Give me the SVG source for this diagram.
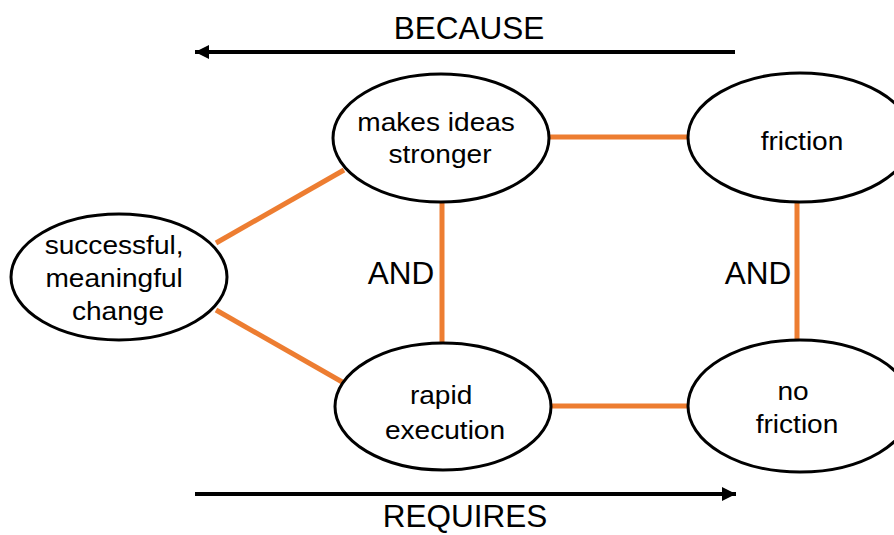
<svg xmlns="http://www.w3.org/2000/svg" width="894" height="535" viewBox="0 0 894 535">
  <style>
    .node ellipse { fill: #ffffff; stroke: #000000; stroke-width: 3; }
    .node text { font-family: "Liberation Sans", Arial, sans-serif; font-size: 26.5px; fill: #000000; text-anchor: middle; }
    .link { stroke: #ED7D31; stroke-width: 5; fill: none; }
    .flow { stroke: #000000; stroke-width: 4; fill: none; }
    .label { font-family: "Liberation Sans", Arial, sans-serif; font-size: 31.5px; fill: #000000; text-anchor: middle; }
  </style>
  <defs>
    <marker id="head" markerUnits="userSpaceOnUse" markerWidth="16" markerHeight="14" refX="14" refY="7" orient="auto">
      <path d="M0,0 L14,7 L0,14 Z" fill="#000000"/>
    </marker>
  </defs>

  <rect width="894" height="535" fill="#ffffff"/>

  <!-- direction arrows -->
  <g id="flow-arrows">
    <line class="flow" x1="735" y1="52" x2="195" y2="52" marker-end="url(#head)"/>
    <text class="label" x="469" y="39">BECAUSE</text>
    <line class="flow" x1="195" y1="494" x2="736" y2="494" marker-end="url(#head)"/>
    <text class="label" x="465" y="527">REQUIRES</text>
  </g>

  <!-- connectors between nodes -->
  <g id="connectors">
    <line class="link" x1="216" y1="243" x2="344" y2="170"/>
    <line class="link" x1="216" y1="310" x2="344" y2="383"/>
    <line class="link" x1="550" y1="137" x2="689" y2="137"/>
    <line class="link" x1="551" y1="406" x2="689" y2="406"/>
    <line class="link" x1="442" y1="201" x2="442" y2="343"/>
    <line class="link" x1="797" y1="201" x2="797" y2="341"/>
    <text class="label" x="401" y="284">AND</text>
    <text class="label" x="758" y="284">AND</text>
  </g>

  <g id="node-change" class="node">
    <ellipse cx="119" cy="277" rx="108" ry="63"/>
    <text transform="matrix(1.06 0 0 1 118 0)">
      <tspan x="0" y="254">successful,</tspan>
      <tspan x="0" y="287">meaningful</tspan>
      <tspan x="0" y="320">change</tspan>
    </text>
  </g>

  <g id="node-stronger" class="node">
    <ellipse cx="441" cy="138" rx="108" ry="64"/>
    <text transform="matrix(1.06 0 0 1 440 0)">
      <tspan x="0" y="131">makes ideas</tspan>
      <tspan x="0" y="163">stronger</tspan>
    </text>
  </g>

  <g id="node-friction" class="node">
    <ellipse cx="800" cy="137.5" rx="112" ry="64.5"/>
    <text transform="matrix(1.06 0 0 1 802 0)">
      <tspan x="0" y="150">friction</tspan>
    </text>
  </g>

  <g id="node-rapid" class="node">
    <ellipse cx="443" cy="406.5" rx="108" ry="63.5"/>
    <text transform="matrix(1.06 0 0 1 445 0)">
      <tspan x="0" y="404">rapid</tspan>
      <tspan x="0" y="439">execution</tspan>
    </text>
  </g>

  <g id="node-nofriction" class="node">
    <ellipse cx="800" cy="406" rx="112" ry="66"/>
    <text transform="matrix(1.06 0 0 1 797 0)">
      <tspan x="0" y="400">no</tspan>
      <tspan x="0" y="433">friction</tspan>
    </text>
  </g>
</svg>
